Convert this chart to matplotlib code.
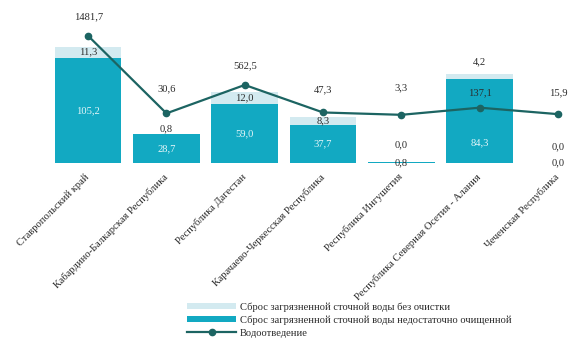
import matplotlib.pyplot as plt

plt.rcParams['font.family'] = ['Liberation Serif', 'DejaVu Serif']

# данные -------------------------
regions = ['Ставропольский край', 'Кабардино-Балкарская Республика', 'Республика Дагестан',
           'Карачаево-Черкесская Республика', 'Республика Ингушетия',
           'Республика Северная Осетия - Алания', 'Чеченская Республика']
insufficient = [105.2, 28.7, 59.0, 37.7, 0.8, 84.3, 0.0]   # недостаточно очищенной
untreated = [11.3, 0.8, 12.0, 8.3, 0.0, 4.2, 0.0]          # без очистки
drainage = [1481.7, 30.6, 562.5, 47.3, 3.3, 137.1, 15.9]   # водоотведение

c_dark = '#12a9c2'
c_light = '#d3eaf0'
c_line = '#1c6462'
c_text = '#2b2b2b'
fs = 7.6

def fmt(v):
    return f'{v:.1f}'.replace('.', ',')

fig = plt.figure(figsize=(5.74, 3.38), dpi=100)
ax = fig.add_axes([49 / 574, 1 - 163 / 338, 525 / 574, 143 / 338])
ax2 = ax.twinx()

x = range(len(regions))
ax.bar(x, insufficient, width=0.85, color=c_dark, zorder=2,
       label='Сброс загрязненной сточной воды недостаточно очищенной')
ax.bar(x, untreated, width=0.85, bottom=insufficient, color=c_light, zorder=2,
       label='Сброс загрязненной сточной воды без очистки')
ax.set_xlim(-0.5, 6.205)
ax.set_ylim(0, 143)

ax2.plot(x, drainage, color=c_line, lw=1.6, marker='o', ms=4.5, zorder=3,
         label='Водоотведение')
ax2.set_ylim(-899, 1779)

# подписи (сдвиги в пикселях там, где в оригинале подпись смещена)
dark_shift = [0, 0, 0, 0, 0, -22, 0]
light_shift = [0, 5, 0, 0, 17, 15, 16]
line_shift = [19, 25, 19, 23, 27, 15, 21]

for i in x:
    d, u, w = insufficient[i], untreated[i], drainage[i]
    if d >= 5:
        ax.annotate(fmt(d), (i, d / 2), xytext=(0, dark_shift[i]), textcoords='offset pixels',
                    ha='center', va='center', color='#e6f6f9', fontsize=fs)
    else:
        ax.annotate(fmt(d), (i, 0), xytext=(0, 0), textcoords='offset pixels',
                    ha='center', va='center', color=c_text, fontsize=fs, zorder=5)
    ax.annotate(fmt(u), (i, d + u / 2), xytext=(0, light_shift[i]), textcoords='offset pixels',
                ha='center', va='center', color=c_text, fontsize=fs)
    ax2.annotate(fmt(w), (i, w), xytext=(0, line_shift[i]), textcoords='offset pixels',
                 ha='center', va='center', color=c_text, fontsize=fs)

for a in (ax, ax2):
    for s in a.spines.values():
        s.set_visible(False)
    a.set_yticks([])
ax.tick_params(axis='x', length=0, pad=9)
ax.set_xticks(list(x))
ax.set_xticklabels(regions, rotation=45, ha='right', va='center', rotation_mode='anchor',
                   fontsize=fs, color=c_text)

h1, l1 = ax.get_legend_handles_labels()
h2, l2 = ax2.get_legend_handles_labels()
fig.legend([h1[1], h1[0], h2[0]], [l1[1], l1[0], l2[0]], loc='upper left',
           bbox_to_anchor=(182 / 574, 1 - 297 / 338), frameon=False, fontsize=fs,
           handlelength=4.6, handleheight=0.5, labelspacing=0.35, borderpad=0,
           handletextpad=0.4, labelcolor=c_text)

fig.savefig('out.png', dpi=100)
